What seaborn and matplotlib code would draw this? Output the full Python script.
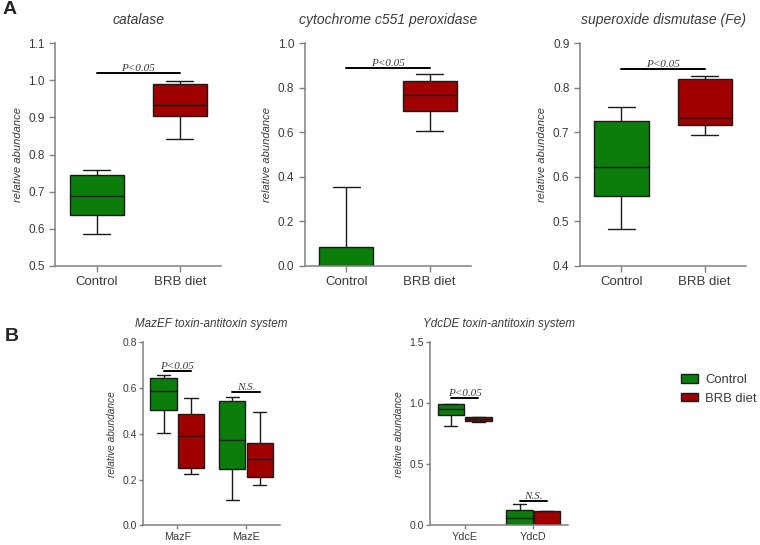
import numpy as np
import pandas as pd
import matplotlib.pyplot as plt
import matplotlib.ticker as mticker
import seaborn as sns

# groups and colours
groups = ["Control", "BRB diet"]
palette = {"Control": "#0b7d0b", "BRB diet": "#a10000"}

# panel A: values per box (min, q1, median, q3, max)
catalase_control = [0.585, 0.637, 0.687, 0.746, 0.758]
catalase_brb = [0.843, 0.904, 0.932, 0.989, 0.999]
cyto_control = [0.0, 0.0, 0.0, 0.085, 0.352]
cyto_brb = [0.606, 0.696, 0.768, 0.831, 0.861]
sod_control = [0.482, 0.556, 0.623, 0.725, 0.756]
sod_brb = [0.693, 0.717, 0.733, 0.820, 0.825]

titles_a = ["catalase", "cytochrome c551 peroxidase", "superoxide dismutase (Fe)"]
ylims_a = [(0.5, 1.1), (0.0, 1.0), (0.4, 0.9)]
ysteps_a = [0.1, 0.2, 0.1]
sig_a = [1.02, 0.89, 0.842]

# panel B
genes_maz = ["MazF", "MazE"]
mazf_control = [0.403, 0.502, 0.588, 0.642, 0.657]
mazf_brb = [0.225, 0.251, 0.391, 0.485, 0.556]
maze_control = [0.113, 0.245, 0.374, 0.545, 0.563]
maze_brb = [0.178, 0.212, 0.290, 0.360, 0.495]

genes_ydc = ["YdcE", "YdcD"]
ydce_control = [0.816, 0.905, 0.957, 0.992, 0.998]
ydce_brb = [0.843, 0.855, 0.868, 0.884, 0.890]
ydcd_control = [0.0, 0.0, 0.057, 0.130, 0.179]
ydcd_brb = [0.0, 0.0, 0.0, 0.114, 0.114]

titles_b = ["MazEF toxin-antitoxin system", "YdcDE toxin-antitoxin system"]
ylims_b = [(0.0, 0.8), (0.0, 1.5)]
ysteps_b = [0.2, 0.5]
sig_b = [(0.674, 0.582), (1.04, 0.20)]
sig_text_b = ["P<0.05", "N.S."]

sns.set_theme(style="ticks")
plt.rcParams["font.family"] = ["Liberation Sans", "DejaVu Sans"]

text_c = "#3a3a3a"
spine_c = "#808080"
edge_c = "#1a1a1a"

fig = plt.figure(figsize=(7.6, 5.45), dpi=100)


def style_axis(ax, ylim, step, fs_tick, fs_lab, fs_x, tlen, tpad):
    ax.set_xlim(-0.5, 1.5)
    ax.set_ylim(*ylim)
    ax.set_yticks(np.arange(ylim[0], ylim[1] + step / 2, step))
    ax.yaxis.set_major_formatter(mticker.FormatStrFormatter("%.1f"))
    sns.despine(ax=ax)
    for s in ["left", "bottom"]:
        ax.spines[s].set_color(spine_c)
        ax.spines[s].set_linewidth(1.1)
    ax.tick_params(axis="both", colors=spine_c, labelcolor=text_c,
                   labelsize=fs_tick, length=tlen, width=1.0, pad=tpad)
    ax.tick_params(axis="x", labelsize=fs_x)
    ax.set_xlabel("")
    ax.set_ylabel("relative abundance", style="italic", color=text_c, fontsize=fs_lab)


# ---- panel A
data_a = [(catalase_control, catalase_brb), (cyto_control, cyto_brb), (sod_control, sod_brb)]
lefts_a = [0.0724, 0.401, 0.763]
for i, (ctrl, brb) in enumerate(data_a):
    ax = fig.add_axes([lefts_a[i], 0.512, 0.219, 0.409])
    df = pd.DataFrame({"group": [groups[0]] * len(ctrl) + [groups[1]] * len(brb),
                       "value": ctrl + brb})
    sns.boxplot(data=df, x="group", y="value", hue="group", order=groups,
                palette=palette, width=0.65, whis=(0, 100), linecolor=edge_c,
                linewidth=1.0, saturation=1, legend=False, ax=ax)
    style_axis(ax, ylims_a[i], ysteps_a[i], 8.5, 8, 9.5, 4, 3.5)
    ax.set_title(titles_a[i], style="italic", color=text_c, fontsize=10, pad=14)
    ax.plot([0, 1], [sig_a[i], sig_a[i]], color="black", lw=1.4)
    ax.text(0.5, sig_a[i], "P<0.05", ha="center", va="bottom", fontsize=8,
            style="italic", family="Liberation Serif", color=text_c)

# ---- panel B
data_b = [
    (genes_maz, [(mazf_control, mazf_brb), (maze_control, maze_brb)]),
    (genes_ydc, [(ydce_control, ydce_brb), (ydcd_control, ydcd_brb)]),
]
lefts_b = [0.188, 0.566]
for i, (genes, vals) in enumerate(data_b):
    ax = fig.add_axes([lefts_b[i], 0.036, 0.181, 0.336])
    rows = []
    for gene, (ctrl, brb) in zip(genes, vals):
        rows += [(gene, groups[0], v) for v in ctrl]
        rows += [(gene, groups[1], v) for v in brb]
    df = pd.DataFrame(rows, columns=["gene", "group", "value"])
    sns.boxplot(data=df, x="gene", y="value", hue="group", order=genes,
                hue_order=groups, palette=palette, width=0.8, gap=0.04,
                whis=(0, 100), linecolor=edge_c, linewidth=1.0, saturation=1,
                legend=(i == 1), ax=ax)
    style_axis(ax, ylims_b[i], ysteps_b[i], 7.5, 7.3, 7.8, 3, 1.5)
    ax.set_title(titles_b[i], style="italic", color=text_c, fontsize=8.4, pad=11)
    for k in range(2):
        y = sig_b[i][k]
        ax.plot([k - 0.2, k + 0.2], [y, y], color="black", lw=1.4)
        ax.text(k, y, sig_text_b[k], ha="center", va="bottom", fontsize=8,
                style="italic", family="Liberation Serif", color=text_c)
    if i == 1:
        sns.move_legend(ax, "upper left", bbox_to_anchor=(1.74, 0.89),
                        frameon=False, title=None, fontsize=9.4,
                        handlelength=1.3, handleheight=0.65, labelspacing=0.5,
                        handletextpad=0.55)
        for t in ax.get_legend().get_texts():
            t.set_color(text_c)

fig.text(0.003, 0.982, "A", fontsize=14, fontweight="bold", va="center", ha="left")
fig.text(0.006, 0.383, "B", fontsize=14, fontweight="bold", va="center", ha="left")

fig.savefig("out.png", dpi=100)
